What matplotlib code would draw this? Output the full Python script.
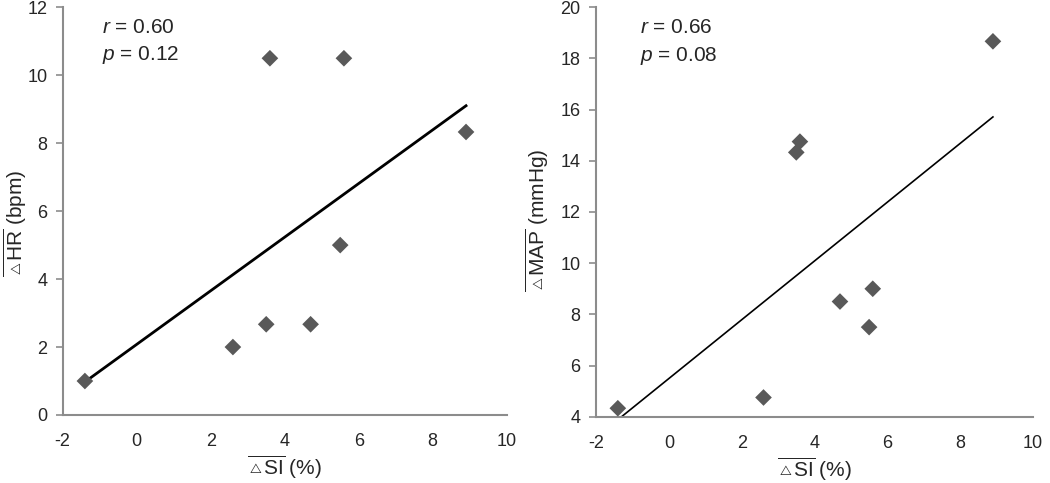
import numpy as np
import matplotlib
matplotlib.use("Agg")
import matplotlib.pyplot as plt

plt.rcParams['font.family'] = ['Liberation Sans', 'DejaVu Sans']
plt.rcParams['mathtext.fontset'] = 'custom'
plt.rcParams['mathtext.rm'] = 'Liberation Sans'
plt.rcParams['mathtext.it'] = 'Liberation Sans:italic'
plt.rcParams['axes.unicode_minus'] = False

# data
delta_si = [-1.4, 2.6, 3.5, 3.6, 4.7, 5.5, 5.6, 8.9]
delta_hr = [1.0, 2.0, 2.67, 10.5, 2.67, 5.0, 10.5, 8.33]
delta_map = [4.33, 4.75, 14.33, 14.75, 8.5, 7.5, 9.0, 18.67]

x_ticks = [-2, 0, 2, 4, 6, 8, 10]
hr_ticks = [0, 2, 4, 6, 8, 10, 12]
map_ticks = [4, 6, 8, 10, 12, 14, 16, 18, 20]

stats_hr = ("0.60", "0.12")
stats_map = ("0.66", "0.08")

marker_color = '#595959'
axis_color = '#8c8c8c'
text_color = '#262626'

tri = r'{}_{{}^{\triangle}}'

fig = plt.figure(figsize=(10.5, 4.83), dpi=100)
ax1 = fig.add_axes([0.0597, 0.1408, 0.4229, 0.8441])
ax2 = fig.add_axes([0.5676, 0.1373, 0.4162, 0.8476])


def draw(ax, y, yticks, ylabel, stats, lw, txt_x, ylab_x, ylab_y):
    x = np.array(delta_si)
    slope, icpt = np.polyfit(x, y, 1)
    xs = np.array([x.min(), x.max()])
    ax.plot(xs, slope * xs + icpt, color='black', lw=lw, zorder=2)
    ax.scatter(x, y, marker='D', s=72, color=marker_color, zorder=3,
               edgecolors='none', clip_on=False)
    ax.set_xlim(x_ticks[0], x_ticks[-1])
    ax.set_ylim(yticks[0], yticks[-1])
    ax.set_xticks(x_ticks)
    ax.set_yticks(yticks)
    ax.tick_params(axis='x', length=0, pad=13, labelsize=13, colors=text_color)
    ax.tick_params(axis='y', length=5, width=1.2, color=axis_color, pad=6,
                   labelsize=13, labelcolor=text_color)
    for side in ['top', 'right']:
        ax.spines[side].set_visible(False)
    for side in ['left', 'bottom']:
        ax.spines[side].set_color(axis_color)
        ax.spines[side].set_linewidth(1.5)
    ax.set_xlabel(r'$\overline{' + tri + r'\mathrm{SI}}$ (%)', fontsize=15,
                  color=text_color, labelpad=3)
    ax.set_ylabel(ylabel, fontsize=15, color=text_color, va='center')
    ax.yaxis.set_label_coords(ylab_x, ylab_y)
    ax.text(txt_x, 0.95, r'$r$ = ' + stats[0], transform=ax.transAxes,
            fontsize=15, color=text_color, va='center')
    ax.text(txt_x, 0.882, r'$p$ = ' + stats[1], transform=ax.transAxes,
            fontsize=15, color=text_color, va='center')


draw(ax1, delta_hr, hr_ticks, r'$\overline{' + tri + r'\mathrm{HR}}$ (bpm)',
     stats_hr, 2.0, 0.088, -0.107, 0.47)
draw(ax2, delta_map, map_ticks, r'$\overline{' + tri + r'\mathrm{MAP}}$ (mmHg)',
     stats_map, 1.2, 0.10, -0.133, 0.48)

fig.savefig('out.png', dpi=100)
